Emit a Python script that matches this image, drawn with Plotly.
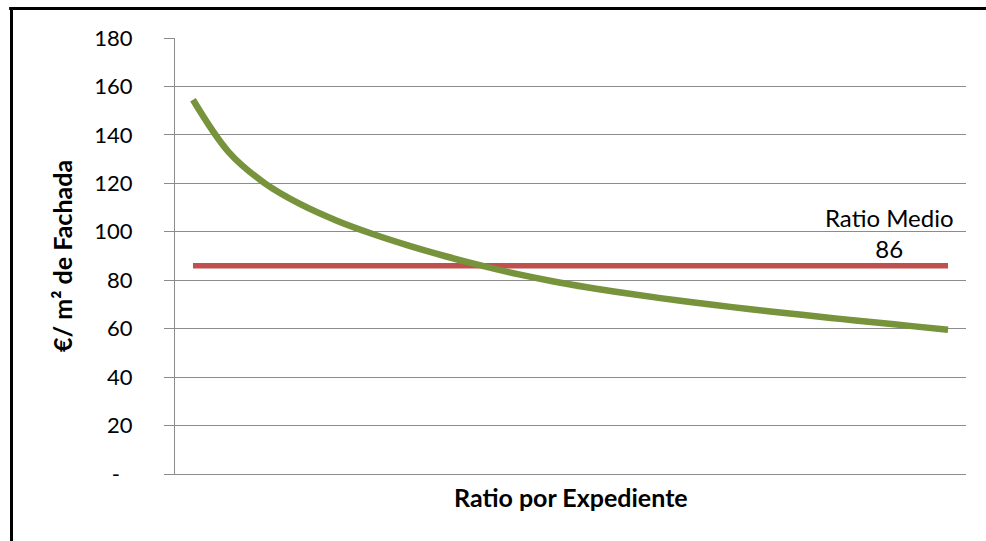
import plotly.graph_objects as go

# Data
categories = list(range(1, 23))
ratio_expediente = [154.5, 132.8, 120.0, 111.3, 104.6, 99.1, 94.3, 90.0, 86.1, 82.6,
                    79.6, 77.0, 74.7, 72.6, 70.7, 68.9, 67.2, 65.6, 64.05, 62.55,
                    61.05, 59.55]
ratio_medio_value = 86
ratio_medio = [ratio_medio_value] * len(categories)
label_position = 20.36  # horizontal position of the "Ratio Medio" label (category units)

y_tickvals = [0, 20, 40, 60, 80, 100, 120, 140, 160, 180]
y_ticktext = ["-\u2007", "20", "40", "60", "80", "100", "120", "140", "160", "180"]

W, H = 986, 541
L, R, T, B = 175, 20, 38, 67
pw, ph = W - L - R, H - T - B

FONT = "Lato"
GRID = "#8c8c8c"

fig = go.Figure()
fig.add_trace(go.Scatter(x=categories, y=ratio_medio, mode="lines",
                         line=dict(color="#C0504D", width=5.5), name="Ratio Medio",
                         hoverinfo="skip"))
fig.add_trace(go.Scatter(x=categories, y=ratio_expediente, mode="lines",
                         line=dict(color="#77933C", width=6.5, shape="spline"),
                         name="Ratio por Expediente"))

fig.add_annotation(x=label_position, y=ratio_medio_value, xref="x", yref="y",
                   text="Ratio Medio<br>" + str(ratio_medio_value), showarrow=False,
                   yanchor="bottom", xanchor="center", yshift=1,
                   font=dict(family=FONT, size=24, color="black"))

# axis titles
fig.add_annotation(x=0.5, y=(474 - 497) / ph, xref="paper", yref="paper",
                   text="<b>Ratio por Expediente</b>", showarrow=False,
                   xanchor="center", yanchor="middle",
                   font=dict(family=FONT, size=25, color="black"))
fig.add_annotation(x=(62 - L) / pw, y=0.5, xref="paper", yref="paper",
                   text="<b>€/ m² de Fachada</b>", showarrow=False, textangle=-90,
                   xanchor="center", yanchor="middle",
                   font=dict(family=FONT, size=25, color="black"))

# outer chart border (only left/top edges visible in the crop)
bx = (11.5 - L) / pw
by = 1 + (T - 8.5) / ph
fig.add_shape(type="line", xref="paper", yref="paper", x0=bx, y0=by, x1=bx, y1=-1.0,
              line=dict(color="black", width=3))
fig.add_shape(type="line", xref="paper", yref="paper", x0=bx - 0.003, y0=by, x1=2.0, y1=by,
              line=dict(color="black", width=3))

fig.update_layout(
    width=W, height=H,
    margin=dict(l=L, r=R, t=T, b=B),
    paper_bgcolor="white", plot_bgcolor="white",
    showlegend=False,
    font=dict(family=FONT, size=22, color="black"),
    xaxis=dict(range=[0.5, len(categories) + 0.5], showticklabels=False, showgrid=False,
               zeroline=False, showline=True, linecolor=GRID, linewidth=1,
               ticks=""),
    yaxis=dict(range=[0, 180], tickvals=y_tickvals, ticktext=y_ticktext,
               showgrid=True, gridcolor=GRID, gridwidth=1, zeroline=False,
               showline=True, linecolor=GRID, linewidth=1,
               ticks="outside", ticklen=10, tickcolor=GRID,
               ticklabelstandoff=27,
               tickfont=dict(family=FONT, size=22, color="black")),
)

fig.write_html("out.html", config={"displayModeBar": False},
               post_script="document.body.style.margin='0';document.body.style.overflow='hidden';")
